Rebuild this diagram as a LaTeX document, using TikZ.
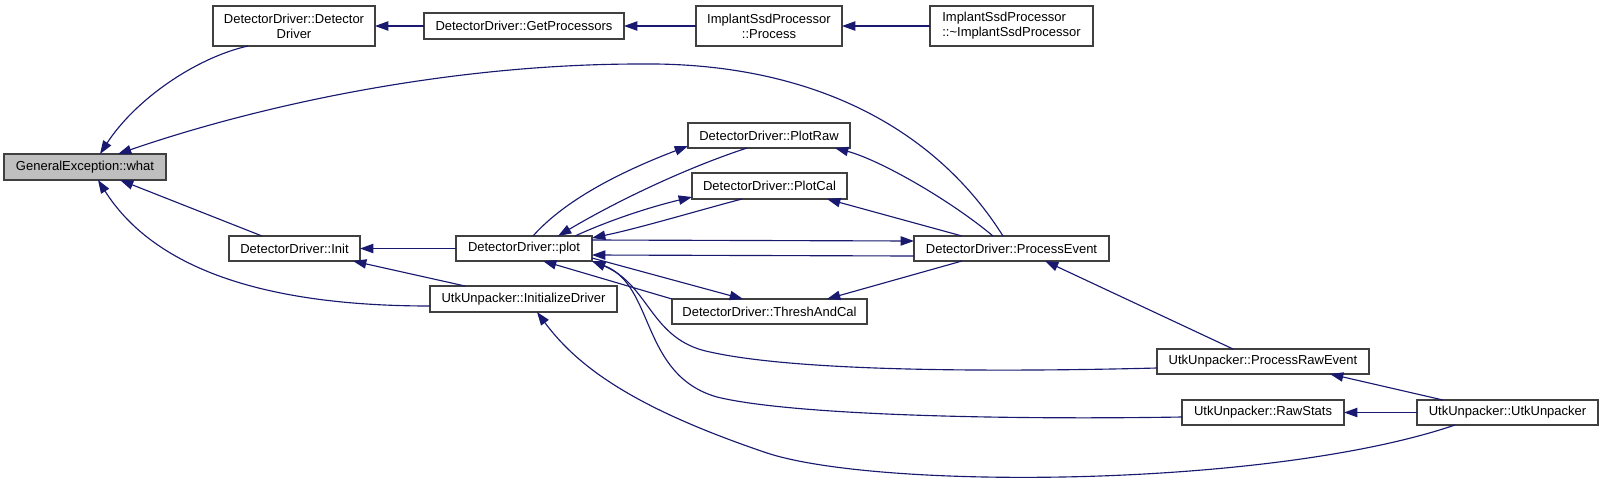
\documentclass[tikz,border=0pt]{standalone}
\usepackage{fontspec}
\setmainfont{Liberation Sans}
\usetikzlibrary{arrows.meta}
\definecolor{edgecol}{HTML}{191970}
\definecolor{nodeborder}{HTML}{404040}
\definecolor{hlfill}{HTML}{BFBFBF}
\begin{document}
\begin{tikzpicture}[x=0.75pt,y=-0.75pt,
  nbox/.style 2 args={draw=nodeborder, line width=1.1pt, fill=white, minimum width=#1*0.75pt, minimum height=#2*0.75pt, inner sep=0pt, outer sep=0pt, font=\fontsize{9.75}{11.25}\selectfont, align=center},
  edge/.style={draw=edgecol, line width=0.85pt, {Triangle[length=10pt,width=7pt]}-}
]
\fill[white] (0,0) rectangle (1603,483);
\useasboundingbox (0,0) rectangle (1603,483);

% nodes
\node[nbox={162}{26}, fill=hlfill] (what) at (85,167) {GeneralException::what};
\node[nbox={162}{40}] (DD) at (294,26) {DetectorDriver::Detector\\Driver};
\node[nbox={200}{26}] (GetProc) at (524,26) {DetectorDriver::GetProcessors};
\node[nbox={146}{40}] (Process) at (769,26) {ImplantSsdProcessor\\::Process};
\node[nbox={163}{40}, align=left] (Dtor) at (1011.5,26) {ImplantSsdProcessor\\::\textasciitilde ImplantSsdProcessor};
\node[nbox={162}{25}] (PlotRaw) at (769,135.5) {DetectorDriver::PlotRaw};
\node[nbox={155}{26}] (PlotCal) at (769.5,186) {DetectorDriver::PlotCal};
\node[nbox={195}{25}] (PE) at (1011.5,248.5) {DetectorDriver::ProcessEvent};
\node[nbox={131}{25}] (Init) at (294.5,248.5) {DetectorDriver::Init};
\node[nbox={136}{25}] (plot) at (524,248.5) {DetectorDriver::plot};
\node[nbox={187}{26}] (InitD) at (523.5,299) {UtkUnpacker::InitializeDriver};
\node[nbox={195}{25}] (TAC) at (769.5,311.5) {DetectorDriver::ThreshAndCal};
\node[nbox={212}{25}] (PRE) at (1263,361.5) {UtkUnpacker::ProcessRawEvent};
\node[nbox={162}{25}] (RS) at (1263,412.5) {UtkUnpacker::RawStats};
\node[nbox={181}{25}] (UU) at (1507.5,412.5) {UtkUnpacker::UtkUnpacker};

% edges (arrow tip at the first point)
\draw[edge] (100,0 |- what.north) .. controls (135,100) and (195,58) .. (248,0 |- DD.south);
\draw[edge] (DD.east) -- (GetProc.west);
\draw[edge] (GetProc.east) -- (Process.west);
\draw[edge] (Process.east) -- (Dtor.west);
\draw[edge] (118,0 |- what.north) .. controls (260,105) and (450,64) .. (640,64) .. controls (800,62) and (930,120) .. (1003,0 |- PE.north);
\draw[edge] (120,0 |- what.south) -- (262,0 |- Init.north);
\draw[edge] (98,0 |- what.south) .. controls (150,262) and (250,306) .. (InitD.west |- 0,306);
\draw[edge] (Init.east) -- (plot.west);
\draw[edge] (353,0 |- Init.south) -- (465,0 |- InitD.north);
\draw[edge] (PlotRaw.west |- 0,146) .. controls (620,172) and (565,200) .. (533,0 |- plot.north);
\draw[edge] (558,0 |- plot.north) .. controls (610,205) and (680,170) .. (747,0 |- PlotRaw.south);
\draw[edge] (PlotCal.west |- 0,197) .. controls (650,207) and (610,220) .. (575,0 |- plot.north);
\draw[edge] (plot.east |- 0,238) .. controls (640,228) and (700,210) .. (742,0 |- PlotCal.south);
\draw[edge] (PE.west |- 0,241) -- (plot.east |- 0,240);
\draw[edge] (plot.east |- 0,255) -- (PE.west |- 0,256);
\draw[edge] (743,0 |- TAC.north) -- (plot.east |- 0,258);
\draw[edge] (543,0 |- plot.south) -- (TAC.north west);
\draw[edge] (827,0 |- PlotCal.south) -- (962,0 |- PE.north);
\draw[edge] (835,0 |- PlotRaw.south) .. controls (880,160) and (950,200) .. (993,0 |- PE.north);
\draw[edge] (827,0 |- TAC.north) -- (962,0 |- PE.south);
\draw[edge] (1045,0 |- PE.south) -- (1233,0 |- PRE.north);
\draw[edge] (1330,0 |- PRE.south) -- (1443,0 |- UU.north);
\draw[edge] (RS.east) -- (UU.west);
\draw[edge] (plot.south east) .. controls (650,285) and (650,340) .. (710,352) .. controls (800,372) and (1000,372) .. (PRE.west |- 0,368);
\draw[edge] (plot.south east) .. controls (655,285) and (640,375) .. (717,397) .. controls (790,415) and (1000,420) .. (RS.west |- 0,417);
\draw[edge] (537,0 |- InitD.south) .. controls (580,370) and (640,410) .. (767,453) .. controls (880,490) and (1270,488) .. (1455,0 |- UU.south);
\end{tikzpicture}
\end{document}
